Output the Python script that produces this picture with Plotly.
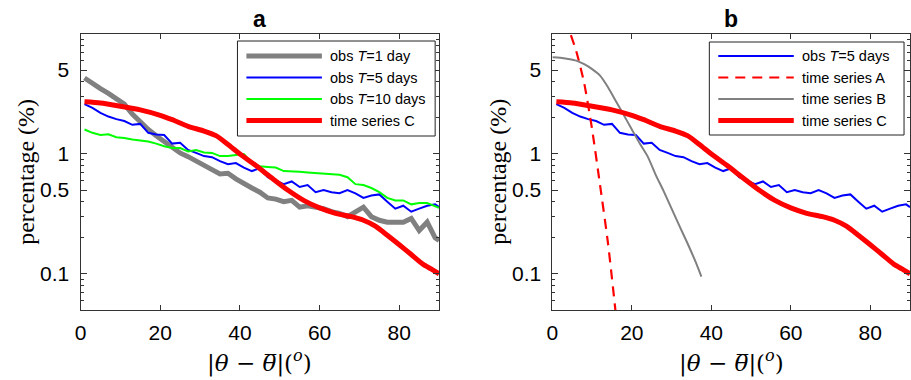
import plotly.graph_objects as go

# ---------------- data ----------------
x_obs = [1, 3, 5, 7, 9, 11, 13, 15, 17, 19, 21, 23, 25, 27, 29, 31, 33, 35, 37, 39,
         41, 43, 45, 47, 49, 51, 53, 55, 57, 59, 61, 63, 65, 67, 69, 71, 73, 75, 77, 79,
         81, 83, 85, 87, 89, 90]
obs_T1 = [4.3, 3.85, 3.5, 3.2, 2.9, 2.6, 2.15, 1.85, 1.6, 1.42,
          1.28, 1.15, 1.02, 0.95, 0.88, 0.82, 0.74, 0.68, 0.69, 0.62,
          0.56, 0.52, 0.48, 0.43, 0.42, 0.40, 0.41, 0.36, 0.37, 0.36,
          0.35, 0.33, 0.32, 0.30, 0.33, 0.36, 0.30, 0.28, 0.27, 0.27,
          0.27, 0.29, 0.23, 0.27, 0.20, 0.19]
obs_T5 = [2.6, 2.42, 2.2, 2.05, 1.95, 1.88, 1.75, 1.78, 1.5, 1.45,
          1.44, 1.22, 1.24, 1.08, 1.02, 0.96, 0.94, 0.87, 0.82, 0.84,
          0.77, 0.72, 0.76, 0.64, 0.60, 0.56, 0.59, 0.53, 0.55, 0.48,
          0.50, 0.48, 0.47, 0.50, 0.47, 0.43, 0.45, 0.46, 0.40, 0.35,
          0.37, 0.33, 0.35, 0.37, 0.38, 0.36]
obs_T10 = [1.6, 1.5, 1.44, 1.46, 1.38, 1.36, 1.32, 1.3, 1.27, 1.22,
           1.16, 1.12, 1.12, 1.05, 1.08, 1.03, 1.02, 0.96, 0.96, 0.98,
           1.0, 0.84, 0.79, 0.78, 0.77, 0.72, 0.72, 0.71, 0.70, 0.69,
           0.69, 0.68, 0.67, 0.64, 0.56, 0.55, 0.52, 0.48, 0.43, 0.41,
           0.41, 0.38, 0.39, 0.39, 0.37, 0.355]

x_C = [1, 5, 10, 15, 20, 23, 27, 31, 34, 37, 40, 44, 48, 52, 56, 60, 64, 68, 71,
       74, 77, 80, 83, 86, 88, 90]
ts_C = [2.72, 2.66, 2.5, 2.33, 2.1, 1.93, 1.7, 1.55, 1.42, 1.2, 1.0, 0.8, 0.63,
        0.5, 0.41, 0.355, 0.32, 0.3, 0.28, 0.25, 0.21, 0.175, 0.145, 0.12, 0.11, 0.10]

x_A = [0, 2, 4, 6, 8, 10, 12, 14, 16, 17]
ts_A = [16.3, 15.1, 11.2, 7.2, 3.9, 1.6, 0.55, 0.18, 0.045, 0.02]

x_B = [0, 2, 4, 6, 8, 10, 12, 14, 16, 18, 20, 22, 24, 26, 28, 30, 32, 34, 36, 37.5]
ts_B = [6.4, 6.35, 6.2, 6.0, 5.6, 5.1, 4.5, 3.6, 2.75, 2.1, 1.6, 1.22, 0.95,
        0.67, 0.49, 0.35, 0.25, 0.18, 0.127, 0.095]

x_ticks = [0, 20, 40, 60, 80]
y_ticks = [0.1, 0.5, 1, 5]
y_ticktext = ["0.1", "0.5", "1", "5"]
y_minor = [0.06, 0.07, 0.08, 0.09, 0.2, 0.3, 0.4, 0.6, 0.7, 0.8, 0.9,
           2, 3, 4, 6, 7, 8, 9]
panel_titles = ["a", "b"]

# ---------------- styles ----------------
W, H = 911, 380
GRAY = "#808080"
BLUE = "#0000FF"
GREEN = "#00FF00"
RED = "#FF0000"
AX = "#333333"
SANS = "Liberation Sans, Arial, sans-serif"
SERIF = "Liberation Serif, Times New Roman, serif"
MATH = "DejaVu Serif, serif"

st_T1 = dict(color=GRAY, width=5)
st_T5 = dict(color=BLUE, width=2)
st_T10 = dict(color=GREEN, width=2)
st_C = dict(color=RED, width=5)
st_A = dict(color=RED, width=2.2, dash="10px,7px")
st_B = dict(color=GRAY, width=2)


def px2x(p):
    return p / W


def px2y(p):
    return 1 - p / H


fig = go.Figure()

# panel a
fig.add_trace(go.Scatter(x=x_obs, y=obs_T1, mode="lines", line=st_T1,
                         name="obs T=1 day", xaxis="x", yaxis="y"))
fig.add_trace(go.Scatter(x=x_obs, y=obs_T5, mode="lines", line=st_T5,
                         name="obs T=5 days", xaxis="x", yaxis="y"))
fig.add_trace(go.Scatter(x=x_obs, y=obs_T10, mode="lines", line=st_T10,
                         name="obs T=10 days", xaxis="x", yaxis="y"))
fig.add_trace(go.Scatter(x=x_C, y=ts_C, mode="lines", line=dict(**st_C, shape="spline", smoothing=0.6),
                         name="time series C", xaxis="x", yaxis="y"))

# panel b
fig.add_trace(go.Scatter(x=x_obs, y=obs_T5, mode="lines", line=st_T5,
                         name="obs T=5 days", xaxis="x2", yaxis="y2"))
fig.add_trace(go.Scatter(x=x_A, y=ts_A, mode="lines", line=dict(**st_A, shape="spline", smoothing=0.6),
                         name="time series A", xaxis="x2", yaxis="y2"))
fig.add_trace(go.Scatter(x=x_B, y=ts_B, mode="lines", line=dict(**st_B, shape="spline", smoothing=0.6),
                         name="time series B", xaxis="x2", yaxis="y2"))
fig.add_trace(go.Scatter(x=x_C, y=ts_C, mode="lines", line=dict(**st_C, shape="spline", smoothing=0.6),
                         name="time series C", xaxis="x2", yaxis="y2"))

y_dom = [px2y(310), px2y(34)]
xa = dict(range=[0, 90], tickvals=x_ticks, ticks="inside", ticklen=5, tickwidth=1,
          tickcolor=AX, showline=True, linecolor=AX, linewidth=1, mirror="ticks",
          showgrid=False, zeroline=False, tickfont=dict(family=SANS, size=21, color="black"),
          ticklabelstandoff=4)
ya = dict(type="log", range=[-1.301, 1.0], tickvals=y_ticks, ticktext=y_ticktext,
          ticks="inside", ticklen=6, tickwidth=1, tickcolor=AX, showline=True,
          linecolor=AX, linewidth=1, mirror="ticks", showgrid=False, zeroline=False,
          tickfont=dict(family=SANS, size=21, color="black"), ticklabelstandoff=6,
          minor=dict(tickvals=y_minor, ticks="inside", ticklen=3, tickcolor=AX, showgrid=False),
          domain=y_dom)

fig.update_layout(
    width=W, height=H, margin=dict(l=0, r=0, t=0, b=0),
    paper_bgcolor="white", plot_bgcolor="white", showlegend=False,
    xaxis=dict(**xa, domain=[px2x(75), px2x(436)], anchor="y"),
    yaxis=dict(**ya, anchor="x"),
    xaxis2=dict(**xa, domain=[px2x(550), px2x(910)], anchor="y2"),
    yaxis2=dict(**ya, anchor="x2"),
)

ann = []
shapes = []
# titles
for t, cx in zip(panel_titles, [255.5, 730]):
    ann.append(dict(text="<b>%s</b>" % t, x=px2x(cx), y=px2y(19), xref="paper", yref="paper",
                    showarrow=False, xanchor="center", yanchor="middle",
                    font=dict(family=SANS, size=23, color="black")))
# axis labels
xlabel = "|<i>θ</i> − <i>θ\u0305</i>|(<sup><i>o</i></sup>)"
for cx, ly in zip([255.5, 730], [20, 495]):
    ann.append(dict(text=xlabel, x=px2x(cx), y=px2y(361), xref="paper", yref="paper",
                    showarrow=False, xanchor="center", yanchor="middle",
                    font=dict(family=MATH, size=23, color="black")))
    ann.append(dict(text="percentage (%)", x=px2x(ly), y=px2y(172), xref="paper", yref="paper",
                    showarrow=False, xanchor="center", yanchor="middle", textangle=-90,
                    font=dict(family=SERIF, size=24, color="black")))

# legends (drawn as boxes with sample lines)
legends = [
    dict(box=(233, 41, 432, 136), lx=(242, 318), tx=324,
         items=[(st_T1, "obs <i>T</i>=1 day"), (st_T5, "obs <i>T</i>=5 days"),
                (st_T10, "obs <i>T</i>=10 days"), (st_C, "time series C")]),
    dict(box=(708, 42, 904, 135), lx=(717, 793), tx=799,
         items=[(st_T5, "obs <i>T</i>=5 days"), (st_A, "time series A"),
                (st_B, "time series B"), (st_C, "time series C")]),
]
rows = [56, 77.5, 99, 120.5]
for lg in legends:
    x0, y0, x1, y1 = lg["box"]
    shapes.append(dict(type="rect", xref="paper", yref="paper", x0=px2x(x0), x1=px2x(x1),
                       y0=px2y(y0), y1=px2y(y1), line=dict(color="#222222", width=1),
                       fillcolor="white", layer="above"))
    for (st, label), ry in zip(lg["items"], rows):
        shapes.append(dict(type="line", xref="paper", yref="paper", x0=px2x(lg["lx"][0]),
                           x1=px2x(lg["lx"][1]), y0=px2y(ry), y1=px2y(ry),
                           line=dict(color=st["color"], width=st["width"],
                                     dash=st.get("dash", "solid")), layer="above"))
        ann.append(dict(text=label, x=px2x(lg["tx"]), y=px2y(ry), xref="paper", yref="paper",
                        showarrow=False, xanchor="left", yanchor="middle",
                        font=dict(family=SANS, size=14.5, color="black")))

fig.update_layout(annotations=ann, shapes=shapes)
fig.write_html("out.html", config={"displayModeBar": False},
               post_script="document.body.style.margin='0';")
